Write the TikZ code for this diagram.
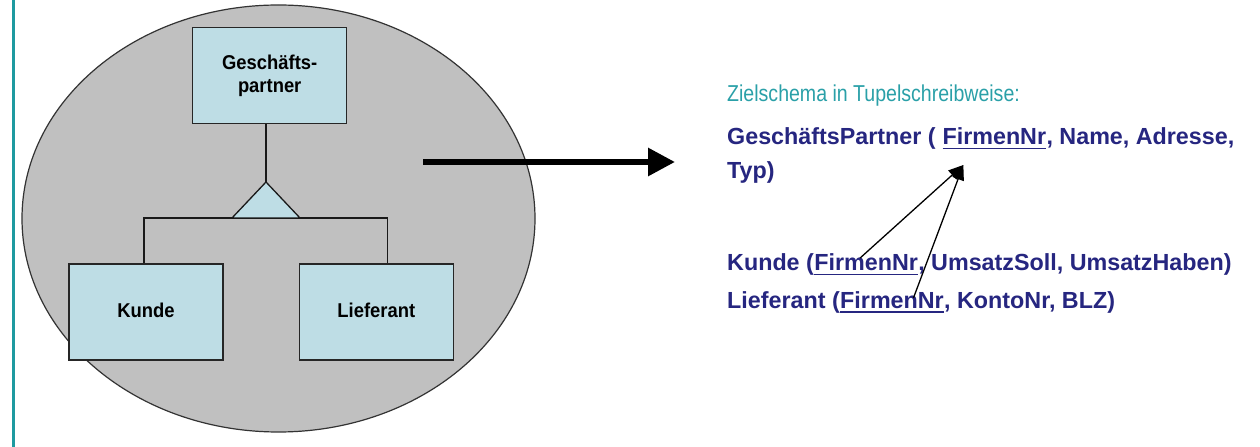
\documentclass[tikz,border=0pt]{standalone}
\usepackage{fontspec}
\setmainfont{Liberation Sans}
\newfontfamily\narrowfont[FakeStretch=0.85]{Liberation Sans}
\newfontfamily\boxfont[FakeStretch=0.92]{Liberation Sans}
\usetikzlibrary{arrows.meta}
\definecolor{boxblue}{RGB}{190,221,229}
\definecolor{ellgray}{RGB}{192,192,192}
\definecolor{navytxt}{RGB}{38,38,128}
\definecolor{tealtxt}{RGB}{42,160,168}
\definecolor{tealbar}{RGB}{30,154,160}
\newcommand\myul[1]{\setbox0\hbox{#1}\rlap{\rule[-4.5bp]{\wd0}{1.5bp}}\box0}
\begin{document}
\begin{tikzpicture}[x=1bp,y=-1bp,
  box/.style={draw=black!85, line width=1.3bp, fill=boxblue, minimum width=154bp, minimum height=96bp, inner sep=0pt, font=\boxfont\fontsize{20bp}{22.5bp}\selectfont\bfseries, align=center},
  conn/.style={line width=1.3bp, draw=black!90},
  txt/.style={inner sep=0pt, anchor=base west, text=navytxt, font=\fontsize{23.3bp}{28bp}\selectfont\bfseries},
  thinarrow/.style={line width=1.3bp, -{Triangle[length=15bp,width=12bp]}}]
\fill[white] (0,0) rectangle (1260,447);
\useasboundingbox (0,0) rectangle (1260,447);
% left bar
\draw[tealbar, line width=3bp] (13,0) -- (13,447);
% ellipse
\draw[fill=ellgray, draw=black!80, line width=1.2bp] (278.5,218.5) ellipse [x radius=256.5, y radius=213.5];
% boxes
\node[box] (gp) at (269.7,75.8) {Geschäfts-\\partner};
\node[box] (kunde) at (146,312) {\raisebox{3bp}{Kunde}};
\node[box] (lief) at (376.3,312) {\raisebox{3bp}{Lieferant}};
% connectors
\coordinate (apex) at (266,182);
\coordinate (bl) at (232,218);
\coordinate (br) at (300,218);
\coordinate (hl) at (144,218);
\coordinate (hr) at (387.5,218);
\draw[conn] (gp.south -| apex) -- (apex);
\draw[conn] (kunde.north -| hl) -- (hl) -- (hr) -- (lief.north -| hr);
\draw[conn, fill=boxblue, line join=miter] (apex) -- (bl) -- (br) -- cycle;
% big arrow
\coordinate (a1) at (423,162);
\coordinate (a2) at (675,162);
\draw[line width=6bp, -{Triangle[length=27bp,width=27bp]}] (a1) -- (a2);
% text
\node[txt, text=tealtxt, font=\fontsize{23bp}{28bp}\selectfont\narrowfont] (z) at (727,101.5) {Zielschema in Tupelschreibweise:};
\node[txt] (g1) at (727,145) {GeschäftsPartner (\ \hbox{}};
\node[txt] (g2) at (g1.base east) {\myul{FirmenNr}};
\node[txt] (g3) at (g2.base east) {, Name, Adresse,};
\node[txt] (typ) at (727,178.5) {Typ)};
\node[txt] (k1) at (727,271) {Kunde (};
\node[txt] (k2) at (k1.base east) {\myul{FirmenNr}};
\node[txt] (k3) at (k2.base east) {, UmsatzSoll, UmsatzHaben)};
\node[txt] (l1) at (727,308.5) {Lieferant (};
\node[txt] (l2) at (l1.base east) {\myul{FirmenNr}};
\node[txt] (l3) at (l2.base east) {, KontoNr, BLZ)};
% thin arrows
\coordinate (tip) at ([xshift=21bp,yshift=-20bp]g2.base west);
\coordinate (ks) at ([xshift=46bp,yshift=13bp]k2.base west);
\coordinate (ls) at ([xshift=73.4bp,yshift=10.5bp]l2.base west);
\draw[thinarrow] (ks) -- (tip);
\draw[thinarrow] (ls) -- (tip);
\end{tikzpicture}
\end{document}
